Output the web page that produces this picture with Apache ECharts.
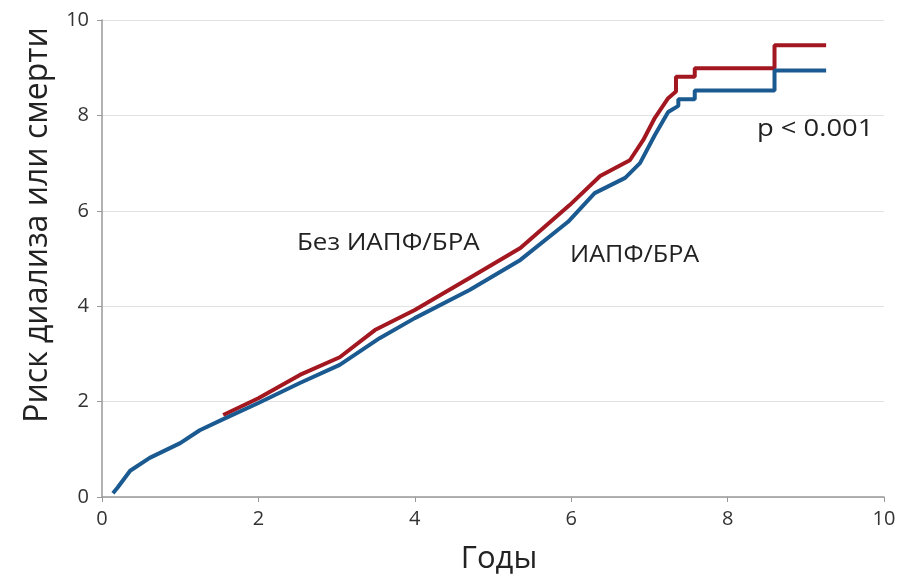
<!DOCTYPE html>
<html><head><meta charset="utf-8">
<script src="https://cdn.jsdelivr.net/npm/echarts@6/dist/echarts.min.js"></script>
<style>html,body{margin:0;padding:0;background:#fff}#c{width:905px;height:576px}</style>
</head><body><div id="c"></div>
<script>
const xTicks = [0, 2, 4, 6, 8, 10];
const yTicks = [0, 2, 4, 6, 8, 10];
const blueX = [0.14,0.2,0.36,0.61,1.0,1.25,1.51,2.0,2.53,3.04,3.55,4.0,4.7,5.35,5.96,6.3,6.69,6.88,7.07,7.24,7.37,7.37,7.58,7.58,8.6,8.6,9.26];
const blueY = [0.08,0.2,0.55,0.82,1.13,1.4,1.6,1.97,2.39,2.77,3.33,3.75,4.34,4.97,5.77,6.37,6.69,7.0,7.59,8.07,8.2,8.34,8.34,8.52,8.52,8.94,8.94];
const redX = [1.55,2.0,2.53,3.04,3.49,4.0,4.7,5.35,5.98,6.37,6.75,6.92,7.07,7.24,7.34,7.34,7.58,7.58,8.6,8.6,9.26];
const redY = [1.72,2.07,2.56,2.93,3.5,3.92,4.59,5.22,6.12,6.73,7.06,7.48,7.95,8.36,8.5,8.81,8.81,8.99,8.99,9.47,9.47];
const labels = ["Без ИАПФ/БРА", "ИАПФ/БРА", "p < 0.001"];
const yName = "Риск диализа или смерти";

const chart = echarts.init(document.getElementById('c'));
const font = '"Open Sans", "DejaVu Sans", sans-serif';
function txt(t, x, y, sx) {
  return {type: 'text', x: x, y: y, scaleX: sx, z: 10,
    style: {text: t, x: 0, y: 0, fontSize: 24, fill: '#222', fontFamily: font, verticalAlign: 'top', align: 'left'}};
}
chart.setOption({
  animation: false,
  grid: {left: 102, right: 21, top: 20, bottom: 79, containLabel: false, outerBoundsMode: 'none'},
  xAxis: {
    type: 'value', min: 0, max: 10, interval: 2,
    name: 'Годы', nameLocation: 'middle', nameGap: 47,
    nameTextStyle: {fontSize: 31, color: '#222', fontFamily: font, padding: [0, 0, 0, 12]},
    axisLine: {lineStyle: {color: '#999', width: 1.5}},
    axisTick: {show: true, length: 5, lineStyle: {color: '#999'}},
    axisLabel: {fontSize: 20, color: '#333', fontFamily: font, margin: 12},
    splitLine: {show: false}
  },
  yAxis: {
    type: 'value', min: 0, max: 10, interval: 2,
    axisLine: {show: true, lineStyle: {color: '#999', width: 1.5}},
    axisTick: {show: true, length: 5, lineStyle: {color: '#999'}},
    axisLabel: {fontSize: 20, color: '#333', fontFamily: font, margin: 13},
    splitLine: {show: true, lineStyle: {color: '#e2e2e2', width: 1}}
  },
  series: [
    {type: 'line', name: 'ИАПФ/БРА', data: blueX.map((x,i)=>[x, blueY[i]]), showSymbol: false,
     lineStyle: {color: '#1b5a90', width: 4}, z: 3},
    {type: 'line', name: 'Без ИАПФ/БРА', data: redX.map((x,i)=>[x, redY[i]]), showSymbol: false,
     lineStyle: {color: '#a31820', width: 4}, z: 2}
  ],
  graphic: [
    txt(labels[0], 297, 231, 1.08),
    txt(labels[1], 570, 243, 1.05),
    txt(labels[2], 757, 117, 1.14),
    {type: 'text', x: 38, y: 225, rotation: Math.PI / 2, z: 10,
     style: {text: yName, x: 0, y: 0, fontSize: 32, fill: '#222', fontFamily: font, align: 'center', verticalAlign: 'middle'}}
  ]
});
</script></body></html>
